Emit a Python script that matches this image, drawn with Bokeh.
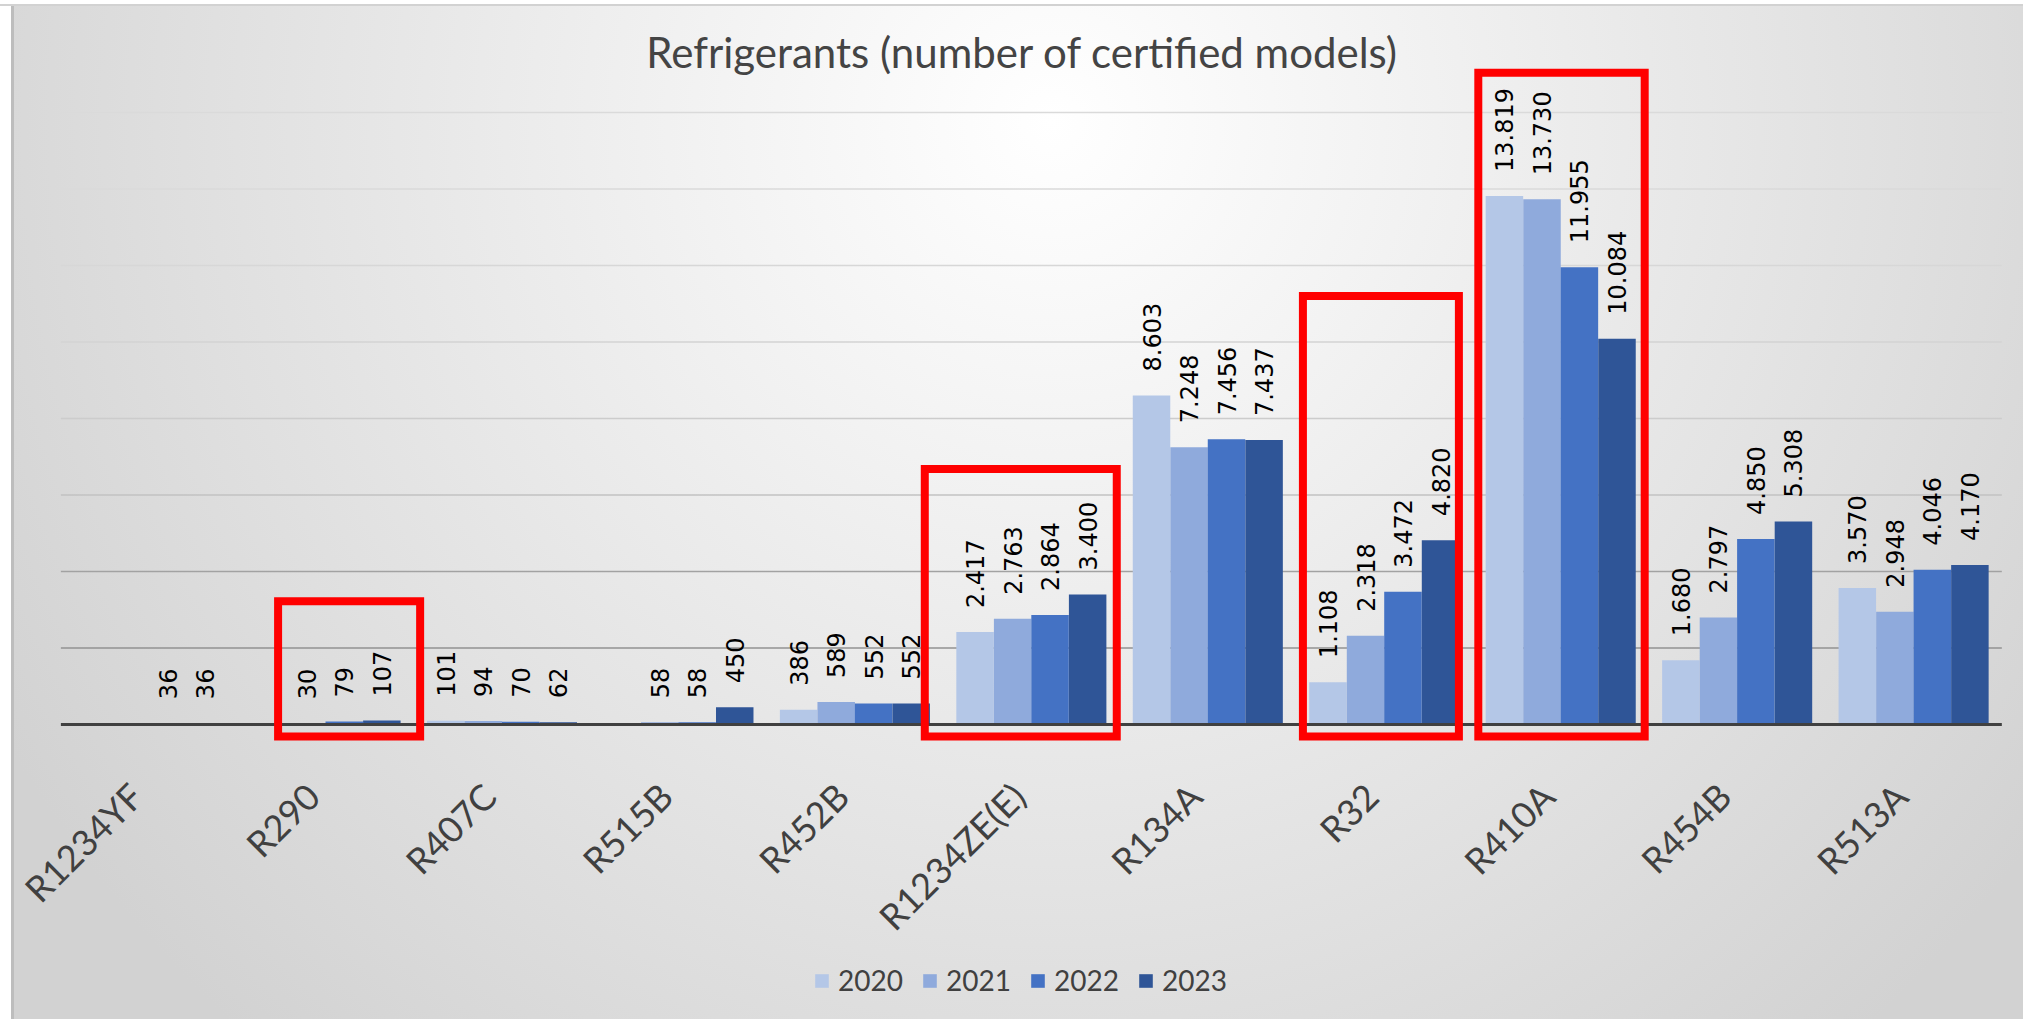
import math
from bokeh.plotting import figure
from bokeh.models import (ColumnDataSource, Legend, LegendItem, Range1d, Label)
from bokeh.transform import dodge
from bokeh.core.properties import value
from bokeh.embed import file_html
from bokeh.resources import INLINE

nan = float("nan")

# ---------------- data ----------------
categories = ["R1234YF", "R290", "R407C", "R515B", "R452B", "R1234ZE(E)",
              "R134A", "R32", "R410A", "R454B", "R513A"]
years = ["2020", "2021", "2022", "2023"]
v2020 = [nan, nan, 101, nan, 386, 2417, 8603, 1108, 13819, 1680, 3570]
v2021 = [nan, 30, 94, 58, 589, 2763, 7248, 2318, 13730, 2797, 2948]
v2022 = [36, 79, 70, 58, 552, 2864, 7456, 3472, 11955, 4850, 4046]
v2023 = [36, 107, 62, 450, 552, 3400, 7437, 4820, 10084, 5308, 4170]
series = [v2020, v2021, v2022, v2023]
grid_ticks = [2000, 4000, 6000, 8000, 10000, 12000, 14000, 16000]
title_text = "Refrigerants (number of certified models)"

# highlighted groups (red frames drawn on the original picture)
highlight_cats = ["R290", "R1234ZE(E)", "R32", "R410A"]
highlight_left = [-0.269, -0.604, -0.461, -0.467]
highlight_right = [0.536, 0.484, 0.423, 0.476]
highlight_top = [3220, 6680, 11200, 17040]
highlight_bottom = [-314, -314, -314, -314]

# ---------------- layout / style ----------------
colors = ["#B4C7E7", "#8FAADC", "#4472C4", "#2F5597"]
grid_colors = ["#929292", "#a2a2a2", "#c2c2c2", "#cccccc", "#d3d3d3", "#d7d7d7",
               "#dadada", "#dadada"]
offsets = [-0.319, -0.106, 0.106, 0.319]
bar_w = 0.2125

W, H = 2023, 1019
X_START, X_END = -0.8422, 10.6228      # category slots, one unit per refrigerant
Y_START, Y_END = -7712, 18928          # frame spans the whole canvas
px_per_unit = H / (Y_END - Y_START)

idx = list(range(len(categories)))

p = figure(width=W, height=H, output_backend="svg", toolbar_location=None,
           x_range=Range1d(X_START, X_END), y_range=Range1d(Y_START, Y_END),
           x_axis_location=None, y_axis_location=None,
           min_border_left=0, min_border_right=0, min_border_top=0, min_border_bottom=0)
p.styles = {"background":
            "linear-gradient(to bottom, #ffffff 0px, #ffffff 4px, #d2d2d2 4px, #d2d2d2 6px, "
            "transparent 6px), "
            "linear-gradient(to right, #ffffff 0px, #ffffff 11px, #bdbdbd 11px, #bdbdbd 14px, "
            "transparent 14px), "
            "radial-gradient(ellipse 60% 120% at 52% 12%, #ffffff 0%, "
            "#f4f4f4 25%, #e2e2e2 65%, #d2d2d2 100%)"}
p.border_fill_color = None
p.background_fill_color = None
p.outline_line_color = None
p.xgrid.visible = False
p.ygrid.visible = False

# horizontal gridlines spanning the category block
grid_src = ColumnDataSource(dict(x0=[idx[0] - 0.5] * len(grid_ticks),
                                 x1=[idx[-1] + 0.5] * len(grid_ticks),
                                 y=grid_ticks, color=grid_colors))
p.segment(x0="x0", x1="x1", y0="y", y1="y", source=grid_src,
          line_color="color", line_width=1.5)

# title
p.add_layout(Label(x=1022, y=968, x_units="screen", y_units="screen", text=title_text,
                   text_align="center", text_baseline="alphabetic",
                   text_font="Lato", text_font_size="42px", text_color="#444444"))

renderers = []
for yr, vals, col, off in zip(years, series, colors, offsets):
    src = ColumnDataSource(dict(idx=idx, val=vals))
    r = p.vbar(x=dodge("idx", off), top="val", width=bar_w,
               source=src, fill_color=col, line_color=None)
    renderers.append(r)
    li = [i for i, v in zip(idx, vals) if not math.isnan(v)]
    lv = [v for v in vals if not math.isnan(v)]
    lt = [f"{int(v):,}".replace(",", ".") for v in lv]
    lsrc = ColumnDataSource(dict(idx=li, val=lv, txt=lt))
    p.text(x=dodge("idx", off), y="val", text="txt", source=lsrc,
           angle=math.pi / 2, text_align="left", text_baseline="middle",
           y_offset=-24, text_font=value("DejaVu Sans"), text_font_size="24px",
           text_color="#000000")

# category axis line
p.segment(x0=[idx[0] - 0.5], x1=[idx[-1] + 0.5], y0=[0], y1=[0],
          line_color="#404040", line_width=3)

# category labels (rotated 45 degrees, hanging below the axis)
label_gap_px = 65
cat_src = ColumnDataSource(dict(idx=idx, cat=categories,
                                y=[-label_gap_px / px_per_unit] * len(categories)))
p.text(x="idx", y="y", text="cat", source=cat_src, angle=math.pi / 4,
       x_offset=-13, text_align="right", text_baseline="middle",
       text_font=value("Lato"), text_font_size="36px", text_color="#404040")

# red highlight frames
for c, l, r_, t, b in zip(highlight_cats, highlight_left, highlight_right,
                          highlight_top, highlight_bottom):
    hs = ColumnDataSource(dict(idx=[categories.index(c)], top=[t], bottom=[b]))
    p.quad(left=dodge("idx", l), right=dodge("idx", r_),
           top="top", bottom="bottom", source=hs, fill_color=None,
           line_color="#FF0000", line_width=8, line_join="miter")

legend = Legend(items=[LegendItem(label=y, renderers=[r]) for y, r in zip(years, renderers)],
                orientation="horizontal", location=(813, 22))
legend.label_text_font = "Lato"
legend.label_text_font_size = "28px"
legend.label_text_color = "#404040"
legend.glyph_width = 17
legend.glyph_height = 17
legend.label_standoff = 8
legend.spacing = 18
legend.padding = 0
legend.margin = 0
legend.background_fill_alpha = 0
legend.border_line_color = None
p.add_layout(legend, "center")

open("out.html", "w").write(file_html(p, INLINE))
